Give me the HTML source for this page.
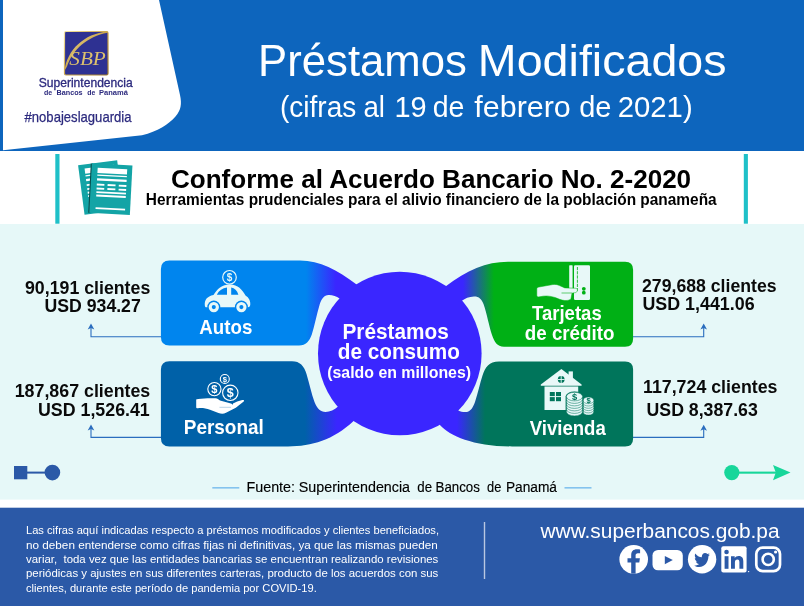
<!DOCTYPE html>
<html lang="es">
<head>
<meta charset="utf-8">
<title>Préstamos Modificados</title>
<style>
html,body{margin:0;padding:0;background:#fff;}
body{width:804px;height:606px;overflow:hidden;font-family:"Liberation Sans",sans-serif;}
svg{display:block;}
text{font-family:"Liberation Sans",sans-serif;}
.b{font-weight:bold;}
</style>
</head>
<body>
<svg width="804" height="606" viewBox="0 0 804 606">
<defs>
  <linearGradient id="gAutos" gradientUnits="userSpaceOnUse" x1="306" y1="0" x2="336" y2="0">
    <stop offset="0" stop-color="#0085EE"/><stop offset="1" stop-color="#3A26FF"/>
  </linearGradient>
  <linearGradient id="gPers" gradientUnits="userSpaceOnUse" x1="305" y1="0" x2="337" y2="0">
    <stop offset="0" stop-color="#0061A8"/><stop offset="1" stop-color="#3A26FF"/>
  </linearGradient>
  <linearGradient id="gTarj" gradientUnits="userSpaceOnUse" x1="463" y1="0" x2="494" y2="0">
    <stop offset="0" stop-color="#3A26FF"/><stop offset="1" stop-color="#00B015"/>
  </linearGradient>
  <linearGradient id="gViv" gradientUnits="userSpaceOnUse" x1="457" y1="0" x2="485" y2="0">
    <stop offset="0" stop-color="#3A26FF"/><stop offset="1" stop-color="#00755B"/>
  </linearGradient>
  <linearGradient id="gold" x1="0" y1="0" x2="1" y2="1">
    <stop offset="0" stop-color="#f3e3a0"/><stop offset="0.5" stop-color="#c9a44a"/><stop offset="1" stop-color="#a07a2a"/>
  </linearGradient>
</defs>

<!-- backgrounds -->
<rect x="0" y="0" width="804" height="606" fill="#ffffff"/>
<rect x="0" y="0" width="804" height="151" fill="#0D65BD"/>
<rect x="0" y="224" width="804" height="275.6" fill="#E6F8F8"/>
<rect x="0" y="507.7" width="804" height="98.3" fill="#2B59A7"/>

<!-- header white panel -->
<path d="M3,0 L159,0 L180,95 C182,104 181,110 175.7,116.3 C168,125 158,131.5 142,135.2 L3,150.3 Z" fill="#ffffff"/>

<!-- logo -->
<g id="logo">
  <rect x="64.5" y="31.5" width="43.5" height="43.5" rx="1.5" fill="#2E3192" stroke="url(#gold)" stroke-width="1.2"/>
  <path d="M64.6,70.5 C67,50 84,33.5 107.6,31.4 L107.6,32.8 C87,36.5 72.5,50 67,66.5 Z" fill="url(#gold)"/>
  <text x="69.3" y="65.4" font-family="Liberation Serif,serif" font-style="italic" font-size="19.5" fill="#dcc06e" style="font-family:'Liberation Serif',serif" textLength="36.5" lengthAdjust="spacingAndGlyphs">SBP</text>
</g>

<!-- title -->

<!-- sub header -->
<rect x="55.3" y="154" width="4.2" height="69.7" fill="#1FC0C8"/>
<rect x="743.8" y="154" width="4.1" height="69.7" fill="#1FC0C8"/>
<g id="docs">
  <g transform="translate(78.1 165.2) rotate(-7.4)">
    <rect x="0" y="0" width="39.4" height="50" fill="#13A4A6"/>
    <g fill="#ffffff">
    <rect x="6" y="4.2" width="29.6" height="5.1"/>
    <rect x="6" y="10.8" width="29.6" height="1.3"/>
    <rect x="6" y="14.6" width="29.6" height="2.3"/>
    <rect x="6" y="19.9" width="7.6" height="1.9"/><rect x="16.8" y="19.9" width="8" height="1.9"/><rect x="28" y="19.9" width="7.6" height="1.9"/>
    <rect x="6" y="23.9" width="7.6" height="1.9"/><rect x="16.8" y="23.9" width="8" height="1.9"/><rect x="28" y="23.9" width="7.6" height="1.9"/>
    <rect x="6" y="27.6" width="29.6" height="1.9"/>
    <rect x="6" y="31" width="29.6" height="1.9"/>
    <rect x="6" y="43.6" width="29.6" height="1.9"/>
    </g>
  </g>
  <g transform="translate(91.9 163.3) rotate(3)">
    <rect x="-1.1" y="0.3" width="2.2" height="49.4" fill="#084c4c"/>
    <rect x="0" y="0" width="40.6" height="49.6" fill="#13A4A6"/>
    <g fill="#ffffff">
    <rect x="6" y="4.2" width="29.6" height="5.1"/>
    <rect x="6" y="10.8" width="29.6" height="1.3"/>
    <rect x="6" y="14.6" width="29.6" height="2.3"/>
    <rect x="6" y="19.9" width="7.6" height="1.9"/><rect x="16.8" y="19.9" width="8" height="1.9"/><rect x="28" y="19.9" width="7.6" height="1.9"/>
    <rect x="6" y="23.9" width="7.6" height="1.9"/><rect x="16.8" y="23.9" width="8" height="1.9"/><rect x="28" y="23.9" width="7.6" height="1.9"/>
    <rect x="6" y="27.6" width="29.6" height="1.9"/>
    <rect x="6" y="31" width="29.6" height="1.9"/>
    <rect x="6" y="43.6" width="29.6" height="1.9"/>
    </g>
  </g>
</g>

<!-- connectors -->
<g fill="none" stroke="#2A6DBE" stroke-width="1.1">
  <path d="M161.5,336.7 H91 V327"/>
  <path d="M161.5,437.4 H91 V428"/>
  <path d="M633,336.7 H703.7 V327"/>
  <path d="M633,437.4 H703.7 V428"/>
</g>
<g fill="#2A6DBE">
  <path d="M91,323.4 L94.3,329.4 L91,327.9 L87.7,329.4 Z"/>
  <path d="M91,424.6 L94.3,430.6 L91,429.1 L87.7,430.6 Z"/>
  <path d="M703.7,323.6 L707,329.6 L703.7,328.1 L700.4,329.6 Z"/>
  <path d="M703.7,424.8 L707,430.8 L703.7,429.3 L700.4,430.8 Z"/>
</g>

<!-- arms -->
<path d="M169.4,260.45 L300,260.45 C320,260.7 337,269.5 356.6,284.4 L400,353 L339.5,298.4 C336.5,296.2 332.5,294.9 328.6,295 C324,295.1 321.5,299 319.8,304 C316.5,315 314.5,326 311.8,334.5 C309.5,341 306,345.45 299,345.45 L169.4,345.45 Q160.9,345.45 160.9,336.95 L160.9,268.95 Q160.9,260.45 169.4,260.45 Z" fill="url(#gAutos)"/>
<path d="M169.4,446.4 L288,446.4 C312,446.4 333,440 353.6,421 L400,354 L338,406.5 C334.5,409.5 330,412 325.5,412 C320.5,412 317,408.5 314.5,402 C311.5,394 309.5,384 306.5,374 C304,366 300,361.3 292,361.3 L169.4,361.3 Q160.9,361.3 160.9,369.8 L160.9,437.9 Q160.9,446.4 169.4,446.4 Z" fill="url(#gPers)"/>
<path d="M625.1,261.7 L508,261.7 C486,261.8 467,270 445.5,286.4 L400,353 L461.9,300.8 C465,298.5 469,296.6 474,296.5 C479,296.4 481.5,299 483.5,304 C487,314 489,326 492,335 C494.5,342 497,346.7 504,346.7 L625.1,346.7 Q633.1,346.7 633.1,338.7 L633.1,269.7 Q633.1,261.7 625.1,261.7 Z" fill="url(#gTarj)"/>
<path d="M625.1,446.4 L512,446.4 C474,446.4 450,436 439.9,424.9 L400,354 L458.4,410.5 C461,412 464,412.3 466.5,412 C470.5,411.5 473,407.5 475,402 C478,393 480,383 482.5,375.5 C485,367.5 489,361.45 499,361.45 L625.1,361.45 Q633.1,361.45 633.1,369.45 L633.1,438.4 Q633.1,446.4 625.1,446.4 Z" fill="url(#gViv)"/>
<circle cx="399.8" cy="353.5" r="81.8" fill="#3A26FF"/>

<!-- icons -->
<g id="ic-car" fill="#E8F8F8">
  <circle cx="229.5" cy="277.3" r="6.8" fill="none" stroke="#E8F8F8" stroke-width="1.2"/>
  <text x="229.5" y="280.9" text-anchor="middle" font-size="10" class="b">$</text>
  <path d="M204.8,305 C204.5,300 207,296.3 213.5,295 C217,289 222,284.4 230,284.4 C238,284.4 242,289.5 245.5,295.4 C249,297.5 250.6,301 250.3,304.3 C250.2,306.3 249.5,307.3 248,307.3 L206.5,307.3 C205.3,307.3 204.8,306.5 204.8,305 Z"/>
  <g fill="#0085EE">
    <path d="M216.8,294.8 C219,290.6 222.5,288 227,287.6 L227,294.8 Z"/>
    <path d="M231.2,287.6 C234.6,288 237,290.6 238.4,294.8 L231.2,294.8 Z"/>
    <circle cx="213.8" cy="307.1" r="6.5"/>
    <circle cx="241.4" cy="307.1" r="6.5"/>
  </g>
  <circle cx="213.8" cy="307.1" r="3.6" fill="none" stroke="#E8F8F8" stroke-width="3.1"/>
  <circle cx="241.4" cy="307.1" r="3.6" fill="none" stroke="#E8F8F8" stroke-width="3.1"/>
</g>

<g id="ic-hand" fill="#ffffff">
  <g fill="none" stroke="#ffffff" stroke-width="1.1">
    <circle cx="224.8" cy="379" r="4.5"/>
    <circle cx="214.4" cy="389.1" r="6.6"/>
    <circle cx="230.3" cy="392.8" r="7.7"/>
  </g>
  <text x="224.8" y="381.8" text-anchor="middle" font-size="7.6" class="b">$</text>
  <text x="214.4" y="393.2" text-anchor="middle" font-size="11" class="b">$</text>
  <text x="230.3" y="397.4" text-anchor="middle" font-size="12.5" class="b">$</text>
  <path d="M196.2,400 C196.2,399.3 196.8,399.2 198,399 L207.5,398.3 L215.5,398.2 C217.5,398.3 218.5,399.5 220,400.6 L230,403.2 C232.5,403.8 233.4,405 232.6,406.2 L233,403.6 L237.2,401.6 L242.3,400 C243.8,399.7 244.6,400.4 243.7,401.4 L235.8,407.8 L226,412.8 C223.5,414 221,413.8 218.5,413 L210,409.8 C206,408.3 202,407.8 198,408.2 C196.8,408.3 196.2,408 196.2,407.2 Z"/>
  <path d="M219.5,407.3 L231,407.3" stroke="#0061A8" stroke-width="0.5" opacity="0.55" fill="none"/>
</g>

<g id="ic-card" fill="#E8F8F8">
  <rect x="569.2" y="265.2" width="3.4" height="24" rx="0.6"/>
  <rect x="574" y="265.2" width="16" height="34.8" rx="1.2"/>
  <path d="M577.4,267 V291" stroke="#00B015" stroke-width="0.8" stroke-dasharray="3.2 1" fill="none"/>
  <circle cx="583.8" cy="288.8" r="1.9" fill="#00B015"/>
  <circle cx="583.8" cy="292.7" r="1.9" fill="#00B015"/>
  <path d="M536.8,289 C536.8,287.8 537.5,287.3 539,287 L553,284.5 C555.5,284.2 557.5,284.6 559.5,285.6 L564.8,287.9 L575.3,288.2 C577.2,288.4 577.9,289.8 577.2,291.2 C576.6,292.5 575.5,292.8 574,292.8 L572,293.2 L571,298.5 C570.5,300 568,300.6 564.8,300.5 C561,300.3 558,298.5 555,297.5 C550,295.8 545,295.5 539.5,296.8 C537.8,297.2 536.8,296.6 536.8,295.2 Z" stroke="#00B015" stroke-width="0.5"/>
  <path d="M561.5,293 L572,293" stroke="#00B015" stroke-width="0.6" fill="none"/>
</g>

<g id="ic-house" fill="#E8F8F8">
  <rect x="568.6" y="371.4" width="4.3" height="10"/>
  <path d="M561.4,369.1 L581.6,384.5 L581.6,385.8 L540.8,385.8 L540.8,384.5 Z"/>
  <rect x="544.5" y="386.5" width="33.7" height="23.5"/>
  <circle cx="561.2" cy="379.5" r="3.4" fill="#00755B"/>
  <path d="M561.2,376 V383 M557.7,379.5 H564.7" stroke="#E8F8F8" stroke-width="0.9" fill="none"/>
  <g fill="#00755B">
    <rect x="549.8" y="392" width="5" height="4.1"/><rect x="556" y="392" width="5" height="4.1"/>
    <rect x="549.8" y="397.1" width="5" height="4.1"/><rect x="556" y="397.1" width="5" height="4.1"/>
  </g>
  <!-- coin stack 2 -->
  <path d="M582.3,400.4 A6.1,4 0 0 1 594.5,400.4 L594.5,411.8 A6.1,4 0 0 1 582.3,411.8 Z" fill="#00755B"/>
  <g stroke="#00755B" stroke-width="0.5">
    <ellipse cx="588.4" cy="411.8" rx="5.4" ry="3.3"/>
    <ellipse cx="588.4" cy="409.6" rx="5.4" ry="3.3"/>
    <ellipse cx="588.4" cy="407.3" rx="5.4" ry="3.3"/>
    <ellipse cx="588.4" cy="405" rx="5.4" ry="3.3"/>
    <ellipse cx="588.4" cy="402.7" rx="5.4" ry="3.3"/>
    <ellipse cx="588.4" cy="400.4" rx="5.4" ry="3.3"/>
  </g>
  <text x="588.6" y="403.3" text-anchor="middle" font-size="7.6" class="b" fill="#00755B">$</text>
  <!-- coin stack 1 -->
  <path d="M565.6,396.6 A8.9,5.1 0 0 1 583.4,396.6 L583.4,411.7 A8.9,5.1 0 0 1 565.6,411.7 Z" fill="#00755B"/>
  <g stroke="#00755B" stroke-width="0.55">
    <ellipse cx="574.5" cy="411.6" rx="8.1" ry="4.3"/>
    <ellipse cx="574.5" cy="409.1" rx="8.1" ry="4.3"/>
    <ellipse cx="574.5" cy="406.6" rx="8.1" ry="4.3"/>
    <ellipse cx="574.5" cy="404.1" rx="8.1" ry="4.3"/>
    <ellipse cx="574.5" cy="401.6" rx="8.1" ry="4.3"/>
    <ellipse cx="574.5" cy="399.1" rx="8.1" ry="4.3"/>
    <ellipse cx="574.5" cy="396.6" rx="8.1" ry="4.3"/>
  </g>
  <text x="574.7" y="400" text-anchor="middle" font-size="9.4" class="b" fill="#00755B">$</text>
</g>

<!-- decorations -->
<g fill="#2B59A7">
  <rect x="14" y="466" width="13.3" height="13.3"/>
  <rect x="27" y="471.6" width="20" height="2"/>
  <circle cx="52.4" cy="472.6" r="7.8"/>
</g>
<g fill="#17D69A">
  <circle cx="731.8" cy="472.6" r="7.6"/>
  <rect x="738" y="471.6" width="38" height="2.1"/>
  <path d="M790.5,472.6 L773,465 L775.8,472.6 L773,480.2 Z"/>
</g>

<!-- fuente -->
<rect x="212.3" y="487.2" width="27" height="1.3" fill="#6DB6EC"/>
<rect x="564.5" y="487.2" width="27" height="1.3" fill="#6DB6EC"/>

<!-- footer -->
<rect x="483.8" y="522" width="1.4" height="57" fill="#b9c7e2"/>

<!--TEXTS-START-->
<g id="texts">
<text x="258.09" y="75.5" font-size="45" textLength="208.77" lengthAdjust="spacingAndGlyphs" fill="#ffffff">Préstamos</text>
<text x="477.89" y="75.5" font-size="45" textLength="248.66" lengthAdjust="spacingAndGlyphs" fill="#ffffff">Modificados</text>
<text x="279.96" y="116.9" font-size="30" textLength="76.37" lengthAdjust="spacingAndGlyphs" fill="#ffffff">(cifras</text>
<text x="363.48" y="116.9" font-size="30" textLength="21.56" lengthAdjust="spacingAndGlyphs" fill="#ffffff">al</text>
<text x="394.47" y="116.9" font-size="30" textLength="32.19" lengthAdjust="spacingAndGlyphs" fill="#ffffff">19</text>
<text x="432.65" y="116.9" font-size="30" textLength="31.70" lengthAdjust="spacingAndGlyphs" fill="#ffffff">de</text>
<text x="474.30" y="116.9" font-size="30" textLength="96.49" lengthAdjust="spacingAndGlyphs" fill="#ffffff">febrero</text>
<text x="579.13" y="116.9" font-size="30" textLength="32.23" lengthAdjust="spacingAndGlyphs" fill="#ffffff">de</text>
<text x="617.72" y="116.9" font-size="30" textLength="74.94" lengthAdjust="spacingAndGlyphs" fill="#ffffff">2021)</text>
<text x="38.70" y="86.5" font-size="12.2" textLength="94.08" lengthAdjust="spacingAndGlyphs" fill="#2C2A7E" stroke="#2C2A7E" stroke-width="0.3">Superintendencia</text>
<text x="43.90" y="95.3" font-size="8" textLength="8.22" lengthAdjust="spacingAndGlyphs" font-weight="bold" fill="#2C2A7E">de</text>
<text x="56.50" y="95.3" font-size="8" textLength="26.10" lengthAdjust="spacingAndGlyphs" font-weight="bold" fill="#2C2A7E">Bancos</text>
<text x="87.20" y="95.3" font-size="8" textLength="8.03" lengthAdjust="spacingAndGlyphs" font-weight="bold" fill="#2C2A7E">de</text>
<text x="99.00" y="95.3" font-size="8" textLength="28.88" lengthAdjust="spacingAndGlyphs" font-weight="bold" fill="#2C2A7E">Panamá</text>
<text x="24.50" y="121.8" font-size="14.8" textLength="107.02" lengthAdjust="spacingAndGlyphs" fill="#2C2A7E" stroke="#2C2A7E" stroke-width="0.25">#nobajeslaguardia</text>
<text x="170.98" y="187.6" font-size="25.4" textLength="520.15" lengthAdjust="spacingAndGlyphs" font-weight="bold" fill="#000">Conforme al Acuerdo Bancario No. 2-2020</text>
<text x="145.81" y="205" font-size="15.6" textLength="570.87" lengthAdjust="spacingAndGlyphs" font-weight="bold" fill="#000">Herramientas prudenciales para el alivio financiero de la población panameña</text>
<text x="342.47" y="339" font-size="22.4" textLength="106.25" lengthAdjust="spacingAndGlyphs" font-weight="bold" fill="#ffffff">Préstamos</text>
<text x="337.80" y="358.5" font-size="22.4" textLength="122.03" lengthAdjust="spacingAndGlyphs" font-weight="bold" fill="#ffffff">de consumo</text>
<text x="327.20" y="377.5" font-size="17.2" textLength="143.87" lengthAdjust="spacingAndGlyphs" font-weight="bold" fill="#ffffff">(saldo en millones)</text>
<text x="199.30" y="333.9" font-size="20.6" textLength="53.01" lengthAdjust="spacingAndGlyphs" font-weight="bold" fill="#ffffff">Autos</text>
<text x="183.78" y="434.4" font-size="20.6" textLength="80.08" lengthAdjust="spacingAndGlyphs" font-weight="bold" fill="#ffffff">Personal</text>
<text x="532.00" y="319.7" font-size="20.6" textLength="69.71" lengthAdjust="spacingAndGlyphs" font-weight="bold" fill="#ffffff">Tarjetas</text>
<text x="524.80" y="339.9" font-size="20.6" textLength="89.63" lengthAdjust="spacingAndGlyphs" font-weight="bold" fill="#ffffff">de crédito</text>
<text x="529.70" y="434.8" font-size="20.6" textLength="76.11" lengthAdjust="spacingAndGlyphs" font-weight="bold" fill="#ffffff">Vivienda</text>
<text x="25.00" y="293.9" font-size="17.6" textLength="125.28" lengthAdjust="spacingAndGlyphs" font-weight="bold" fill="#0a0a0a">90,191 clientes</text>
<text x="44.50" y="312.1" font-size="17.6" textLength="96.29" lengthAdjust="spacingAndGlyphs" font-weight="bold" fill="#0a0a0a">USD 934.27</text>
<text x="14.69" y="396.9" font-size="17.6" textLength="135.59" lengthAdjust="spacingAndGlyphs" font-weight="bold" fill="#0a0a0a">187,867 clientes</text>
<text x="37.99" y="415.9" font-size="17.6" textLength="111.79" lengthAdjust="spacingAndGlyphs" font-weight="bold" fill="#0a0a0a">USD 1,526.41</text>
<text x="642.00" y="291.9" font-size="17.6" textLength="134.58" lengthAdjust="spacingAndGlyphs" font-weight="bold" fill="#0a0a0a">279,688 clientes</text>
<text x="642.49" y="310.1" font-size="17.6" textLength="112.10" lengthAdjust="spacingAndGlyphs" font-weight="bold" fill="#0a0a0a">USD 1,441.06</text>
<text x="642.99" y="392.5" font-size="17.6" textLength="134.49" lengthAdjust="spacingAndGlyphs" font-weight="bold" fill="#0a0a0a">117,724 clientes</text>
<text x="646.59" y="415.8" font-size="17.6" textLength="111.19" lengthAdjust="spacingAndGlyphs" font-weight="bold" fill="#0a0a0a">USD 8,387.63</text>
<text x="246.46" y="491.5" font-size="15.2" textLength="48.59" lengthAdjust="spacingAndGlyphs" fill="#000" stroke="#000" stroke-width="0.15">Fuente:</text>
<text x="298.80" y="491.5" font-size="15.2" textLength="111.28" lengthAdjust="spacingAndGlyphs" fill="#000" stroke="#000" stroke-width="0.15">Superintendencia</text>
<text x="417.30" y="491.5" font-size="15.2" textLength="14.79" lengthAdjust="spacingAndGlyphs" fill="#000" stroke="#000" stroke-width="0.15">de</text>
<text x="435.52" y="491.5" font-size="15.2" textLength="44.42" lengthAdjust="spacingAndGlyphs" fill="#000" stroke="#000" stroke-width="0.15">Bancos</text>
<text x="487.10" y="491.5" font-size="15.2" textLength="14.28" lengthAdjust="spacingAndGlyphs" fill="#000" stroke="#000" stroke-width="0.15">de</text>
<text x="505.90" y="491.5" font-size="15.2" textLength="51.10" lengthAdjust="spacingAndGlyphs" fill="#000" stroke="#000" stroke-width="0.15">Panamá</text>
<text x="26.00" y="533.8" font-size="10.6" textLength="412.99" lengthAdjust="spacingAndGlyphs" fill="#ffffff" style="white-space:pre">Las cifras aquí indicadas respecto a préstamos modificados y clientes beneficiados,</text>
<text x="26.00" y="548.5" font-size="10.6" textLength="411.88" lengthAdjust="spacingAndGlyphs" fill="#ffffff" style="white-space:pre">no deben entenderse como cifras fijas ni definitivas, ya que las mismas pueden</text>
<text x="26.00" y="562.8" font-size="10.6" textLength="412.32" lengthAdjust="spacingAndGlyphs" fill="#ffffff" style="white-space:pre">variar,  toda vez que las entidades bancarias se encuentran realizando revisiones</text>
<text x="26.00" y="577.1" font-size="10.6" textLength="412.32" lengthAdjust="spacingAndGlyphs" fill="#ffffff" style="white-space:pre">periódicas y ajustes en sus diferentes carteras, producto de los acuerdos con sus</text>
<text x="26.00" y="591.6" font-size="10.6" textLength="290.79" lengthAdjust="spacingAndGlyphs" fill="#ffffff" style="white-space:pre">clientes, durante este período de pandemia por COVID-19.</text>
<text x="540.47" y="538.3" font-size="19.6" textLength="239.12" lengthAdjust="spacingAndGlyphs" fill="#ffffff">www.superbancos.gob.pa</text>
</g>
<!--TEXTS-END-->
<!-- social icons -->
<g id="social">
  <circle cx="633.7" cy="559.3" r="14.3" fill="#ffffff"/>
  <path d="M635.6,573.6 L635.6,562.6 L639.3,562.6 L639.9,558.2 L635.6,558.2 L635.6,555.6 C635.6,554.2 636.2,553.3 637.9,553.3 L640.1,553.3 L640.1,549.5 C639.2,549.4 638,549.3 636.8,549.3 C633.4,549.3 631.2,551.4 631.2,555 L631.2,558.2 L627.5,558.2 L627.5,562.6 L631.2,562.6 L631.2,573.6 Z" fill="#2B59A7"/>
  <rect x="652.5" y="550" width="30.3" height="20.3" rx="5.5" fill="#ffffff"/>
  <path d="M664.8,555.9 L672.8,560.1 L664.8,564.3 Z" fill="#2B59A7"/>
  <circle cx="702.1" cy="559.3" r="14.2" fill="#ffffff"/>
  <path d="M710.6,553.6 C710,553.9 709.3,554.1 708.6,554.2 C709.3,553.8 709.9,553.1 710.1,552.3 C709.4,552.7 708.7,553 707.9,553.1 C707.3,552.4 706.3,552 705.3,552 C703.4,552 701.8,553.6 701.8,555.5 C701.8,555.8 701.8,556.1 701.9,556.3 C699,556.2 696.4,554.8 694.7,552.6 C694.4,553.2 694.2,553.8 694.2,554.4 C694.2,555.6 694.8,556.7 695.8,557.3 C695.2,557.3 694.7,557.1 694.2,556.9 C694.2,558.6 695.4,560 697,560.3 C696.5,560.5 695.9,560.5 695.4,560.4 C695.9,561.8 697.1,562.8 698.7,562.8 C697.3,563.9 695.4,564.4 693.6,564.2 C695.1,565.2 697,565.8 698.9,565.8 C705.3,565.8 708.9,560.5 708.9,555.8 L708.9,555.4 C709.6,554.9 710.2,554.3 710.6,553.6 Z" fill="#2B59A7" transform="translate(702.1 560) scale(0.92 1.02) translate(-702.1 -558.9)"/>
  <rect x="721.3" y="546.3" width="25.3" height="26.2" rx="2" fill="#ffffff"/>
  <g fill="#2B59A7">
    <rect x="724.6" y="556.2" width="3.9" height="12.6"/>
    <circle cx="726.55" cy="552" r="2.3"/>
    <path d="M731,556.2 L734.7,556.2 L734.7,557.9 C735.4,556.7 736.8,555.9 738.7,555.9 C742.2,555.9 743.3,558.1 743.3,561.6 L743.3,568.8 L739.4,568.8 L739.4,562.4 C739.4,560.6 739,559.4 737.4,559.4 C735.7,559.4 734.9,560.6 734.9,562.4 L734.9,568.8 L731,568.8 Z"/>
  </g>
  <circle cx="748.6" cy="571.6" r="0.7" fill="#ffffff"/>
  <rect x="756.3" y="547.6" width="23.7" height="23.6" rx="6.4" fill="none" stroke="#ffffff" stroke-width="2.7"/>
  <circle cx="768.2" cy="559.4" r="5.6" fill="none" stroke="#ffffff" stroke-width="2.6"/>
  <circle cx="775.6" cy="552" r="1.6" fill="#ffffff"/>
</g>

</svg>
</body>
</html>
